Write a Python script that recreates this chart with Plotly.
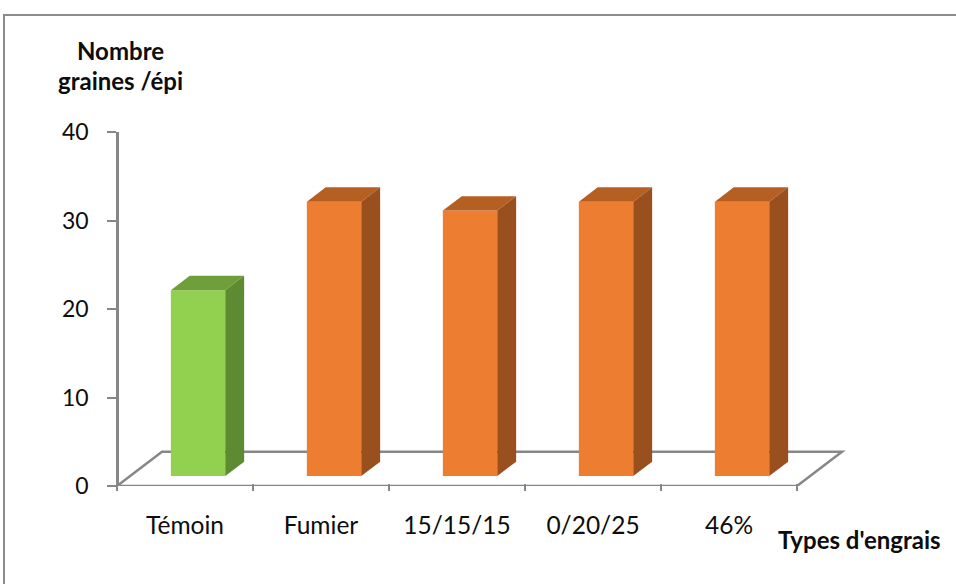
import plotly.graph_objects as go

# Data
categories = ["Témoin", "Fumier", "15/15/15", "0/20/25", "46%"]
grains_per_ear = [21, 31, 30, 31, 31]
y_ticks = [0, 10, 20, 30, 40]

# Face colours (front, top, side) per bar
front_colors = ["#92D050", "#ED7D31", "#ED7D31", "#ED7D31", "#ED7D31"]
top_colors = ["#6F9F3B", "#B65F23", "#B65F23", "#B65F23", "#B65F23"]
side_colors = ["#5E8A32", "#9A4F1E", "#9A4F1E", "#9A4F1E", "#9A4F1E"]

AXIS_GREY = "#878787"
FONT = "Lato"

# Page geometry (pixels)
FIG_W, FIG_H = 956, 584
M_L, M_R, M_T, M_B = 114, 96, 132, 98
PLOT_W = FIG_W - M_L - M_R
PLOT_H = FIG_H - M_T - M_B

# Axis scaling: category pitch and value scale
PX_PER_CAT = 136.0
PX_PER_UNIT = 8.775
X_ORIGIN_PX = 117   # pixel of x = -0.5
Y_ZERO_PX = 483     # pixel of y = 0

x_lo = -0.5 - (X_ORIGIN_PX - M_L) / PX_PER_CAT
x_hi = x_lo + PLOT_W / PX_PER_CAT
y_lo = -((M_T + PLOT_H) - Y_ZERO_PX) / PX_PER_UNIT
y_hi = y_lo + PLOT_H / PX_PER_UNIT

# Oblique depth of the floor (in axis units) and bar depth slice
DEPTH_X = 45 / PX_PER_CAT
DEPTH_Y = 34 / PX_PER_UNIT
F_FRONT, F_BACK = 0.29, 0.71
BAR_W = 0.40

n = len(categories)
fig = go.Figure()

# Front faces of the bars
fig.add_trace(go.Bar(
    x=list(range(n)), y=grains_per_ear,
    base=[F_FRONT * DEPTH_Y] * n,
    offset=F_FRONT * DEPTH_X - BAR_W / 2, width=BAR_W,
    marker=dict(color=front_colors, line=dict(width=0)),
    showlegend=False, hoverinfo="skip",
))

# Top and side faces
ddx = (F_BACK - F_FRONT) * DEPTH_X
b0 = F_FRONT * DEPTH_Y
b1 = F_BACK * DEPTH_Y
for i, v in enumerate(grains_per_ear):
    xl = i + F_FRONT * DEPTH_X - BAR_W / 2
    xr = xl + BAR_W
    top_x = [xl, xr, xr + ddx, xl + ddx, xl]
    top_y = [v + b0, v + b0, v + b1, v + b1, v + b0]
    fig.add_trace(go.Scatter(x=top_x, y=top_y, mode="lines", fill="toself",
                             fillcolor=top_colors[i], line=dict(width=0),
                             hoverinfo="skip", showlegend=False))
    side_x = [xr, xr, xr + ddx, xr + ddx, xr]
    side_y = [b0, v + b0, v + b1, b1, b0]
    fig.add_trace(go.Scatter(x=side_x, y=side_y, mode="lines", fill="toself",
                             fillcolor=side_colors[i], line=dict(width=0),
                             hoverinfo="skip", showlegend=False))

# Floor outline, kept underneath the bars
fx = [-0.5, n - 0.5, n - 0.5 + DEPTH_X, -0.5 + DEPTH_X]
fy = [0, 0, DEPTH_Y, DEPTH_Y]
floor_path = "M " + " L ".join(f"{a},{b}" for a, b in zip(fx, fy)) + " Z"


def px_to_paper(px, py):
    return (px - M_L) / PLOT_W, 1 - (py - M_T) / PLOT_H


tick_font = dict(family=FONT, size=23, color="#0d0d0d")
cat_font = dict(family=FONT, size=24.5, color="#0d0d0d")
title_font = dict(family=FONT, size=24, color="#0d0d0d")

annotations = []
for text, (cx, cy) in [("<b>Nombre</b>", (120, 50)),
                       ("<b>graines /épi</b>", (120, 80)),
                       ("<b>Types d'engrais</b>", (859, 539))]:
    ax, ay = px_to_paper(cx, cy)
    annotations.append(dict(text=text, x=ax, y=ay, xref="paper", yref="paper",
                            xanchor="center", yanchor="middle",
                            showarrow=False, font=title_font))

bx0, by0 = px_to_paper(4, 15)
bx1, by1 = px_to_paper(1000, 650)

fig.update_layout(
    width=FIG_W, height=FIG_H, autosize=False,
    margin=dict(l=M_L, r=M_R, t=M_T, b=M_B, pad=0),
    paper_bgcolor="white", plot_bgcolor="white",
    xaxis=dict(
        range=[x_lo, x_hi], tickvals=list(range(n)), ticktext=categories,
        ticks="", showline=False, showgrid=False, zeroline=False,
        anchor="free", position=(-y_lo) / (y_hi - y_lo),
        tickfont=cat_font, ticklabelstandoff=25,
        minor=dict(tickvals=[k - 0.5 for k in range(n + 1)], ticks="outside",
                   ticklen=7, tickwidth=2, tickcolor=AXIS_GREY, showgrid=False),
    ),
    yaxis=dict(
        range=[0, y_hi], tickvals=y_ticks,
        ticks="outside", ticklen=9, tickwidth=2, tickcolor=AXIS_GREY,
        showline=True, linecolor=AXIS_GREY, linewidth=2.5,
        showgrid=False, zeroline=False,
        anchor="free", position=(-0.5 - x_lo) / (x_hi - x_lo),
        tickfont=tick_font, ticklabelstandoff=14,
    ),
    annotations=annotations,
    shapes=[
        dict(type="rect", xref="paper", yref="paper",
             x0=bx0, y0=by1, x1=bx1, y1=by0,
             line=dict(color="#8C8C8C", width=2), fillcolor="rgba(0,0,0,0)",
             layer="below"),
        dict(type="path", xref="x", yref="y", path=floor_path,
             line=dict(color=AXIS_GREY, width=2.5), fillcolor="rgba(0,0,0,0)",
             layer="below"),
    ],
)

fig.write_html("out.html")
